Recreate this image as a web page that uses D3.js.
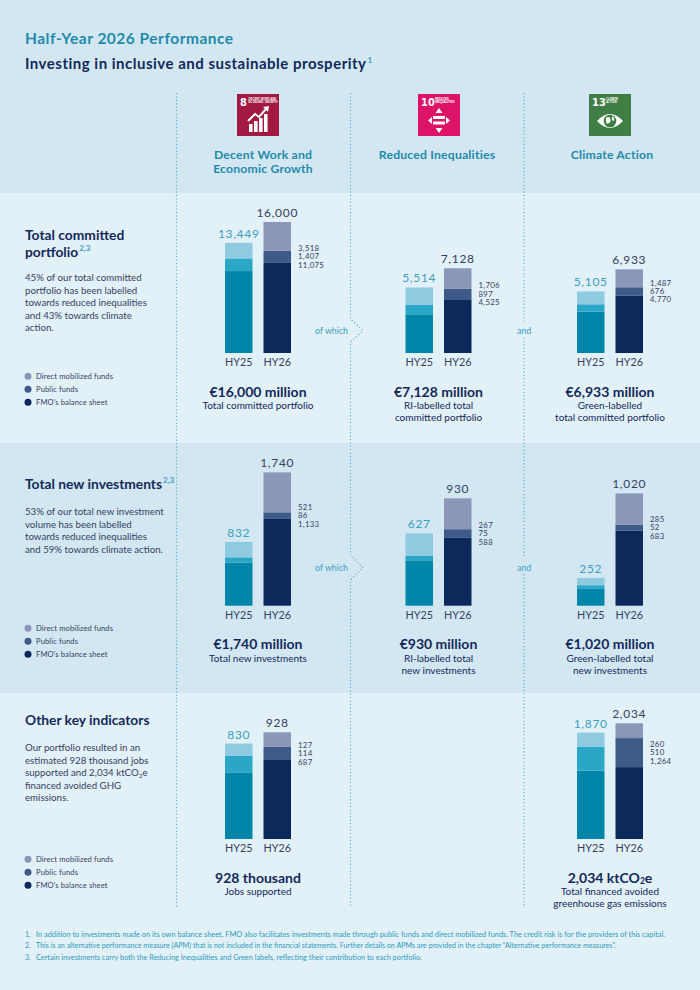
<!DOCTYPE html>
<meta charset="utf-8">
<script src="https://cdn.jsdelivr.net/npm/d3@7"></script>
<style>
  body { margin: 0; }
  text { font-family: Lato, "Open Sans", sans-serif; }
</style>
<svg id="chart" width="700" height="990"></svg>
<script>

// ---------- data ----------
var periods = ["HY25", "HY26"];
var segmentNames = ["FMO's balance sheet", "Public funds", "Direct mobilized funds"];
var goalTitles = [["Decent Work and", "Economic Growth"], ["Reduced Inequalities"], ["Climate Action"]];
var goalNumbers = ["8", "10", "13"];
var goalLabels = [["DECENT WORK AND", "ECONOMIC GROWTH"], ["REDUCED", "INEQUALITIES"], ["CLIMATE", "ACTION"]];

// [balance sheet, public funds, direct mobilized] per goal column
var committedHY25 = [[10006, 1547, 1896], [3202, 835, 1477], [3432, 603, 1070]];
var committedHY26 = [[11075, 1407, 3518], [4525, 897, 1706], [4770, 676, 1487]];
var committedHeadlines = ["€16,000 million", "€7,128 million", "€6,933 million"];
var committedSubs = [["Total committed portfolio"], ["RI-labelled total", "committed portfolio"], ["Green-labelled", "total committed portfolio"]];

var newHY25 = [[561, 70, 201], [393, 41, 193], [153, 33, 66]];
var newHY26 = [[1133, 86, 521], [588, 75, 267], [683, 52, 285]];
var newHeadlines = ["€1,740 million", "€930 million", "€1,020 million"];
var newSubs = [["Total new investments"], ["RI-labelled total", "new investments"], ["Green-labelled total", "new investments"]];

var keyColumns = [0, 2];
var keyHY25 = [[579, 146, 105], [1201, 422, 247]];
var keyHY26 = [[687, 114, 127], [1264, 510, 260]];
var keyHeadlines = ["928 thousand", "2,034 ktCO{2}e"];
var keySubs = [["Jobs supported"], ["Total financed avoided", "greenhouse gas emissions"]];

var sectionHeadings = [["Total committed", "portfolio"], ["Total new investments"], ["Other key indicators"]];
var sectionSups = ["2,3", "2,3", ""];
var sectionParas = [
  ["45% of our total committed", "portfolio has been labelled", "towards reduced inequalities", "and 43% towards climate", "action."],
  ["53% of our total new investment", "volume has been labelled", "towards reduced inequalities", "and 59% towards climate action."],
  ["Our portfolio resulted in an", "estimated 928 thousand jobs", "supported and 2,034 ktCO{2}e", "financed avoided GHG", "emissions."]
];

var footnotes = [
  "In addition to investments made on its own balance sheet, FMO also facilitates investments made through public funds and direct mobilized funds. The credit risk is for the providers of this capital.",
  "This is an alternative performance measure (APM) that is not included in the financial statements. Further details on APMs are provided in the chapter \"Alternative performance measures\".",
  "Certain investments carry both the Reducing Inequalities and Green labels, reflecting their contribution to each portfolio."
];

// ---------- layout / style ----------
var navy = "#12295a", slate = "#34425f", teal = "#1f8aab", lightTeal = "#3c9fbf";
var colorsHY25 = ["#0086a8", "#2aa6c6", "#8fcbe0"];
var colorsHY26 = ["#0b2a5b", "#3e5a88", "#8b96b9"];
var legendColors = ["#0b2a5b", "#3e5a88", "#8b96b9"];
var groupCenters = [258, 438.5, 610];
var iconX = [237, 418, 589];
var titleCenters = [263, 437, 612];

var sections = [
  { top: 193, bottom: 443, fill: "#e2f0f8", baseline: 353, heights: [131, 84.7, 83.7],
    headY: 240, paraY: 281, legendY: 379, chevron: 330.5 },
  { top: 443, bottom: 693, fill: "#d2e7f2", baseline: 605.7, heights: [133.3, 107.3, 112.3],
    headY: 489, paraY: 515, legendY: 631, chevron: 567.5 },
  { top: 693, bottom: 990, fill: "#e2f0f8", baseline: 839, heights: [106.7, null, 115.7],
    headY: 725, paraY: 751, legendY: 862, chevron: null }
];

var svg = d3.select("#chart");

// helper: text with {2} subscripts
function rich(sel, str, subSize, shift) {
  var back = 0;
  str.split(/(\{\d\})/).forEach(function (part) {
    if (!part) return;
    var m = part.match(/^\{(\d)\}$/);
    if (m) {
      sel.append("tspan").attr("font-size", subSize).attr("dy", shift).text(m[1]);
      back = -shift;
    } else {
      sel.append("tspan").attr("dy", back).text(part);
      back = 0;
    }
  });
}

// backgrounds
svg.append("rect").attr("width", 700).attr("height", 193).attr("fill", "#d2e7f2");
sections.forEach(function (s) {
  svg.append("rect").attr("x", 0).attr("y", s.top).attr("width", 700)
    .attr("height", s.bottom - s.top).attr("fill", s.fill);
});

// header
svg.append("text").attr("x", 25).attr("y", 43.5).attr("fill", teal)
  .attr("font-size", 15.5).attr("letter-spacing", 0.5).attr("font-weight", 700)
  .text("Half-Year 2026 Performance");
var sub = svg.append("text").attr("x", 25).attr("y", 69).attr("fill", navy)
  .attr("font-size", 15).attr("letter-spacing", 0.5).attr("font-weight", 700)
  .text("Investing in inclusive and sustainable prosperity");
sub.append("tspan").attr("fill", lightTeal).attr("font-size", 8).attr("dy", -6).attr("dx", 1).text("1");

// dotted dividers
var dots = svg.append("g").attr("fill", "none").attr("stroke", "#4aa6c3")
  .attr("stroke-width", 1.2).attr("stroke-dasharray", "1 2.4");
dots.append("path").attr("d", "M176.5,93V908");
var c1 = sections[0].chevron, c2 = sections[1].chevron;
dots.append("path").attr("d",
  "M350.5,93V" + (c1 - 11.5) + "L363," + c1 + "L350.5," + (c1 + 11.5) +
  "V" + (c2 - 12.5) + "L363," + c2 + "L350.5," + (c2 + 12.5) + "V908");
dots.append("path").attr("d",
  "M524,93V" + (c1 - 9) + "M524," + (c1 + 7) + "V" + (c2 - 9) + "M524," + (c2 + 7) + "V908");

[c1, c2].forEach(function (cy) {
  svg.append("text").attr("x", 348).attr("y", cy + 3).attr("text-anchor", "end")
    .attr("fill", lightTeal).attr("font-size", 8.8).text("of which");
  svg.append("text").attr("x", 524).attr("y", cy + 3).attr("text-anchor", "middle")
    .attr("fill", lightTeal).attr("font-size", 8.8).text("and");
});

// SDG icons
var iconColors = ["#a21942", "#dd1367", "#3f7e44"];
goalNumbers.forEach(function (n, i) {
  var g = svg.append("g").attr("transform", "translate(" + iconX[i] + ",94)");
  g.append("rect").attr("width", 42).attr("height", 42).attr("fill", iconColors[i]);
  g.append("text").attr("x", 3).attr("y", 12).attr("fill", "#fff")
    .style("font-family", "'Liberation Sans Narrow', 'DejaVu Sans Condensed', sans-serif")
    .attr("font-size", 11).attr("font-weight", 700).text(n);
  goalLabels[i].forEach(function (l, k) {
    g.append("text").attr("x", n.length > 1 ? 17 : 11.5).attr("y", 5.5 + k * 3.4).attr("fill", "#fff")
      .style("font-family", "'Liberation Sans Narrow', sans-serif")
      .attr("font-size", 2.8).attr("font-weight", 700).text(l);
  });
  if (i === 0) {
    [[12, 30], [17, 27], [22, 24], [27, 20]].forEach(function (b) {
      g.append("rect").attr("x", b[0]).attr("y", b[1]).attr("width", 3.6)
        .attr("height", 38 - b[1]).attr("fill", "#fff");
    });
    g.append("path").attr("d", "M11,27L18,20L22,23L29,15").attr("fill", "none")
      .attr("stroke", "#fff").attr("stroke-width", 2);
    g.append("path").attr("d", "M26,13L32,12L31,18Z").attr("fill", "#fff");
  } else if (i === 1) {
    g.append("rect").attr("x", 15).attr("y", 22).attr("width", 12).attr("height", 3).attr("fill", "#fff");
    g.append("rect").attr("x", 15).attr("y", 27.5).attr("width", 12).attr("height", 3).attr("fill", "#fff");
    g.append("path").attr("d", "M21,14L17.5,19H24.5Z M21,39L17.5,34H24.5Z M10,26.5L14,23V30Z M32,26.5L28,23V30Z")
      .attr("fill", "#fff");
  } else {
    g.append("path").attr("d", "M8,27Q21,13 34,27Q21,41 8,27Z").attr("fill", "#fff");
    g.append("circle").attr("cx", 21).attr("cy", 27).attr("r", 6.3).attr("fill", iconColors[2]);
    g.append("path").attr("d", "M17,24Q19,22 21,24Q23,27 20,29Q18,31 17,28Z M23,22Q26,24 25,27L23,26Z")
      .attr("fill", "#fff");
  }
  goalTitles[i].forEach(function (t, k) {
    svg.append("text").attr("x", titleCenters[i]).attr("y", 159 + k * 14)
      .attr("text-anchor", "middle").attr("fill", teal).attr("font-size", 12.2)
      .attr("letter-spacing", 0.2).attr("font-weight", 700).text(t);
  });
});

// left column: headings, paragraphs, legends
sections.forEach(function (s, si) {
  sectionHeadings[si].forEach(function (line, k) {
    var t = svg.append("text").attr("x", 25).attr("y", s.headY + k * 17)
      .attr("fill", navy).attr("font-size", 13.8).attr("font-weight", 700).text(line);
    if (k === sectionHeadings[si].length - 1 && sectionSups[si]) {
      t.append("tspan").attr("fill", lightTeal).attr("font-size", 8).attr("dy", -6)
        .attr("dx", 1).text(sectionSups[si]);
    }
  });
  sectionParas[si].forEach(function (line, k) {
    var t = svg.append("text").attr("x", 25).attr("y", s.paraY + k * 12.5)
      .attr("fill", slate).attr("font-size", 9.7);
    rich(t, line, 6.5, 2);
  });
  var lg = svg.append("g").attr("transform", "translate(28," + s.legendY + ")");
  d3.range(3).reverse().forEach(function (idx, k) {
    lg.append("circle").attr("cx", 0).attr("cy", k * 13 - 2.8).attr("r", 3.5).attr("fill", legendColors[idx]);
    lg.append("text").attr("x", 8).attr("y", k * 13).attr("fill", slate)
      .attr("font-size", 7.6).attr("letter-spacing", 0.1).text(segmentNames[idx]);
  });
});

// charts
var charts = [];
[0, 1, 2].forEach(function (c) {
  charts.push({ sec: 0, col: c, hy25: committedHY25[c], hy26: committedHY26[c],
    head: committedHeadlines[c], subs: committedSubs[c] });
  charts.push({ sec: 1, col: c, hy25: newHY25[c], hy26: newHY26[c],
    head: newHeadlines[c], subs: newSubs[c] });
});
keyColumns.forEach(function (c, k) {
  charts.push({ sec: 2, col: c, hy25: keyHY25[k], hy26: keyHY26[k],
    head: keyHeadlines[k], subs: keySubs[k] });
});

var fmt = d3.format(",");
var stack = d3.stack().keys([0, 1, 2]);

charts.forEach(function (ch) {
  var s = sections[ch.sec];
  var cx = groupCenters[ch.col];
  var rows = [ch.hy25, ch.hy26].map(function (v, i) {
    return { period: periods[i], 0: v[0], 1: v[1], 2: v[2] };
  });
  var totals = rows.map(function (r) { return r[0] + r[1] + r[2]; });
  var x = d3.scaleBand().domain(periods).range([cx - 33, cx + 33]).paddingInner(0.286);
  var y = d3.scaleLinear().domain([0, totals[1]]).range([s.baseline, s.baseline - s.heights[ch.col]]);
  var series = stack(rows);
  var g = svg.append("g");

  series.forEach(function (ser) {
    g.selectAll(null).data(ser).enter().append("rect")
      .attr("x", function (d) { return x(d.data.period); })
      .attr("width", x.bandwidth())
      .attr("y", function (d) { return y(d[1]); })
      .attr("height", function (d) { return y(d[0]) - y(d[1]); })
      .attr("fill", function (d) {
        return (d.data.period === "HY25" ? colorsHY25 : colorsHY26)[ser.key];
      });
  });

  // totals above bars
  periods.forEach(function (p, i) {
    g.append("text").attr("x", x(p) + x.bandwidth() / 2).attr("y", y(totals[i]) - 5)
      .attr("text-anchor", "middle").attr("font-size", 12).attr("letter-spacing", 0.7)
      .attr("fill", i === 0 ? lightTeal : slate).text(fmt(totals[i]));
    g.append("text").attr("x", x(p) + x.bandwidth() / 2).attr("y", s.baseline + 13)
      .attr("text-anchor", "middle").attr("font-size", 10.8).attr("fill", slate).text(p);
  });

  // HY26 segment labels
  var pubMid = (y(ch.hy26[0]) + y(ch.hy26[0] + ch.hy26[1])) / 2;
  [2, 1, 0].forEach(function (idx, k) {
    g.append("text").attr("x", x("HY26") + x.bandwidth() + 7)
      .attr("y", pubMid + (k - 1) * 8.3 + 2.8)
      .attr("font-size", 7.8).attr("letter-spacing", 0.3).attr("fill", slate)
      .text(fmt(ch.hy26[idx]));
  });

  // headline and subtitle
  var h = g.append("text").attr("x", cx).attr("y", s.baseline + 43.5).attr("text-anchor", "middle")
    .attr("fill", navy).attr("font-size", 14).attr("font-weight", 700);
  rich(h, ch.head, 8.5, 1.5);
  ch.subs.forEach(function (line, k) {
    g.append("text").attr("x", cx).attr("y", s.baseline + 56 + k * 12.4)
      .attr("text-anchor", "middle").attr("fill", navy).attr("font-size", 10).text(line);
  });
});

// footnotes
var footWidths = [629, 580, 386];
footnotes.forEach(function (f, i) {
  svg.append("text").attr("x", 25).attr("y", 937 + i * 11.3).attr("fill", "#2e9bbb")
    .attr("font-size", 7).text((i + 1) + ".");
  svg.append("text").attr("x", 36).attr("y", 937 + i * 11.3).attr("fill", "#2e9bbb")
    .attr("font-size", 7).attr("textLength", footWidths[i])
    .attr("lengthAdjust", "spacingAndGlyphs").text(f);
});

</script>
